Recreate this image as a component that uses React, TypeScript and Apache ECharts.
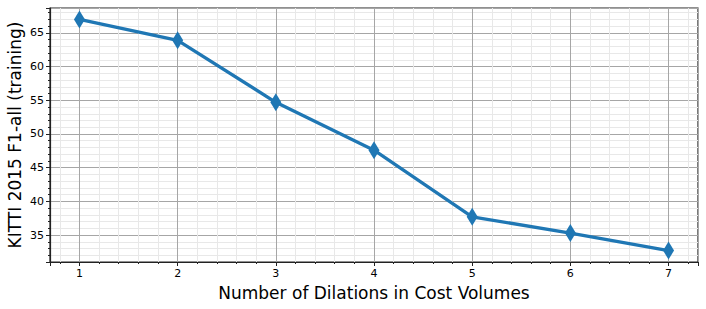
import React, { useEffect, useRef } from "react";
import * as echarts from "echarts";

const dilations = [1, 2, 3, 4, 5, 6, 7];
const f1All = [67.0, 63.9, 54.7, 47.6, 37.7, 35.3, 32.7];
const xLabel = "Number of Dilations in Cost Volumes";
const yLabel = "KITTI 2015 F1-all (training)";

export default function App() {
  const ref = useRef<HTMLDivElement>(null);
  useEffect(() => {
    if (!ref.current) return;
    const chart = echarts.init(ref.current, null, { renderer: "svg" });
    const font = "DejaVu Sans";
    chart.setOption({
      animation: false,
      backgroundColor: "#ffffff",
      grid: {
        left: 50,
        right: 8,
        top: 8,
        bottom: 47,
        show: true,
        borderColor: "#222",
        borderWidth: 1.2,
        backgroundColor: "transparent",
        containLabel: false,
        outerBoundsMode: "none",
      },
      xAxis: {
        type: "value",
        min: 0.7,
        max: 7.3,
        minInterval: 1,
        maxInterval: 1,
        name: xLabel,
        nameLocation: "middle",
        nameGap: 22,
        nameMoveOverlap: false,
        nameTextStyle: { fontFamily: font, fontSize: 17, color: "#000" },
        axisLine: { show: true, lineStyle: { color: "#222", width: 1.2 } },
        axisTick: { show: true, length: 4, lineStyle: { color: "#222" } },
        minorTick: { show: true, splitNumber: 5, length: 2, lineStyle: { color: "#222" } },
        axisLabel: {
          fontFamily: font,
          fontSize: 11,
          color: "#000",
          margin: 6,
          showMinLabel: false,
          showMaxLabel: false,
          formatter: (v: number) => (Number.isInteger(v) ? String(v) : ""),
        },
        splitLine: { show: true, lineStyle: { color: "#a6a6a6", width: 1 } },
        minorSplitLine: { show: true, lineStyle: { color: "#e8e8e8", width: 1 } },
      },
      yAxis: {
        type: "value",
        min: 31.0,
        max: 68.7,
        minInterval: 5,
        maxInterval: 5,
        name: yLabel,
        nameLocation: "middle",
        nameGap: 27,
        nameMoveOverlap: false,
        nameTextStyle: { fontFamily: font, fontSize: 17, color: "#000" },
        axisLine: { show: true, lineStyle: { color: "#222", width: 1.2 } },
        axisTick: { show: true, length: 4, lineStyle: { color: "#222" } },
        minorTick: { show: true, splitNumber: 5, length: 2, lineStyle: { color: "#222" } },
        axisLabel: {
          fontFamily: font,
          fontSize: 11,
          color: "#000",
          margin: 6,
          showMinLabel: false,
          showMaxLabel: false,
          formatter: (v: number) => (Number.isInteger(v) && v % 5 === 0 ? String(v) : ""),
        },
        splitLine: { show: true, lineStyle: { color: "#a6a6a6", width: 1 } },
        minorSplitLine: { show: true, lineStyle: { color: "#e8e8e8", width: 1 } },
      },
      series: [
        {
          type: "line",
          data: dilations.map((d, i) => [d, f1All[i]]),
          symbol: "diamond",
          symbolSize: [11, 18],
          lineStyle: { color: "#1f77b4", width: 3.3 },
          itemStyle: { color: "#1f77b4" },
          z: 5,
        },
      ],
    });
    return () => chart.dispose();
  }, []);
  return (
    <div
      ref={ref}
      style={{ position: "fixed", left: 0, top: 0, width: 706, height: 309 }}
    />
  );
}
